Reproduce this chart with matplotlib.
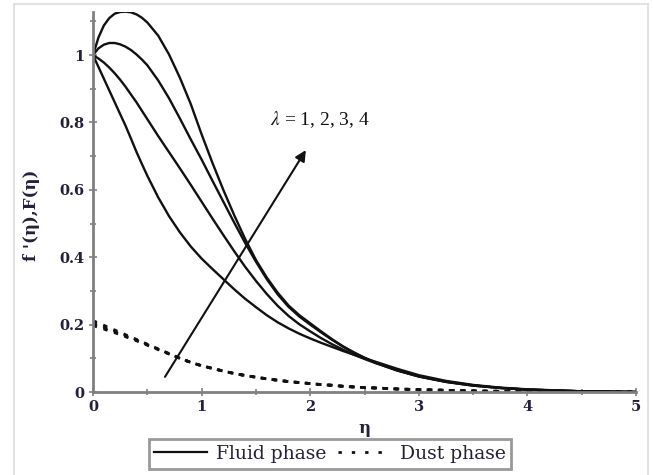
import matplotlib
matplotlib.use("Agg")
import matplotlib.pyplot as plt
from matplotlib.lines import Line2D
from matplotlib.ticker import MultipleLocator

eta = [0, 0.05, 0.1, 0.15, 0.2, 0.25, 0.3, 0.35, 0.4, 0.45, 0.5, 0.6, 0.7, 0.8, 0.9,
       1.0, 1.1, 1.2, 1.3, 1.4, 1.5, 1.6, 1.7, 1.8, 1.9, 2.0, 2.1, 2.2, 2.3, 2.4, 2.5,
       2.6, 2.8, 3.0, 3.25, 3.5, 3.75, 4.0, 4.5, 5.0]

fluid_l1 = [1.0, 0.965, 0.93, 0.895, 0.86, 0.825, 0.79, 0.752, 0.713, 0.677, 0.642, 0.578,
            0.522, 0.474, 0.432, 0.396, 0.365, 0.335, 0.305, 0.277, 0.252, 0.228, 0.207,
            0.189, 0.173, 0.159, 0.146, 0.134, 0.122, 0.111, 0.1, 0.09, 0.069, 0.05, 0.033,
            0.021, 0.013, 0.008, 0.002, 0.0]
fluid_l2 = [1.0, 0.99, 0.978, 0.963, 0.946, 0.927, 0.906, 0.883, 0.86, 0.835, 0.81, 0.76,
            0.712, 0.664, 0.615, 0.565, 0.515, 0.466, 0.418, 0.372, 0.33, 0.291, 0.256,
            0.226, 0.201, 0.18, 0.16, 0.142, 0.126, 0.111, 0.098, 0.086, 0.064, 0.046, 0.03,
            0.019, 0.012, 0.007, 0.002, 0.0]
fluid_l3 = [1.0, 1.02, 1.031, 1.036, 1.036, 1.032, 1.025, 1.015, 1.002, 0.987, 0.97, 0.925,
            0.872, 0.812, 0.75, 0.69, 0.627, 0.565, 0.503, 0.443, 0.387, 0.335, 0.29,
            0.253, 0.224, 0.2, 0.177, 0.155, 0.135, 0.117, 0.101, 0.087, 0.064, 0.046, 0.03,
            0.019, 0.012, 0.007, 0.002, 0.0]
fluid_l4 = [1.0, 1.052, 1.088, 1.110, 1.123, 1.128, 1.129, 1.127, 1.121, 1.111, 1.097, 1.058,
            1.002, 0.933, 0.855, 0.765, 0.68, 0.6, 0.525, 0.455, 0.392, 0.34, 0.295,
            0.257, 0.228, 0.204, 0.18, 0.157, 0.136, 0.118, 0.102, 0.088, 0.065, 0.047, 0.031,
            0.02, 0.012, 0.007, 0.002, 0.0]

# dust phase: start segments (eta 0 .. 0.7) differ, tail (eta 0.8 .. 5) shared
dust_head_l1 = [0.212, 0.205, 0.198, 0.191, 0.184, 0.177, 0.170, 0.163, 0.156, 0.149, 0.142, 0.128, 0.114]
dust_head_l2 = [0.207, 0.201, 0.194, 0.188, 0.181, 0.175, 0.168, 0.162, 0.155, 0.148, 0.141, 0.127, 0.114]
dust_head_l3 = [0.202, 0.196, 0.190, 0.184, 0.178, 0.172, 0.166, 0.160, 0.154, 0.147, 0.140, 0.127, 0.113]
dust_head_l4 = [0.197, 0.192, 0.187, 0.181, 0.176, 0.170, 0.164, 0.158, 0.152, 0.146, 0.139, 0.126, 0.113]
dust_tail = [0.1, 0.088, 0.078, 0.07, 0.062, 0.055, 0.049, 0.044, 0.039, 0.035, 0.031, 0.028,
             0.025, 0.022, 0.02, 0.017, 0.015, 0.013, 0.012, 0.009, 0.007, 0.005, 0.003,
             0.002, 0.0015, 0.0005, 0.0]

fluid = [fluid_l1, fluid_l2, fluid_l3, fluid_l4]
dust = [h + dust_tail for h in (dust_head_l1, dust_head_l2, dust_head_l3, dust_head_l4)]

x_ticks = [0, 1, 2, 3, 4, 5]
y_ticks = [0, 0.2, 0.4, 0.6, 0.8, 1]
y_tick_labels = ["0", "0.2", "0.4", "0.6", "0.8", "1"]
annot_text = r"$\lambda$ = 1, 2, 3, 4"
arrow_start = (0.663, 0.045)
arrow_end = (1.96, 0.718)

label_color = "#23203a"
tick_font = ["DejaVu Serif"]
text_font = ["DejaVu Serif"]

fig = plt.figure(figsize=(6.53, 4.75), dpi=100)
ax = fig.add_axes([93 / 653, (475 - 392) / 475, (636 - 93) / 653, (392 - 12) / 475])

for ys in fluid:
    ax.plot(eta, ys, color="#111111", lw=1.7, solid_capstyle="round", solid_joinstyle="round")
for ys in dust:
    ax.plot(eta, ys, color="#111111", lw=2.0, linestyle=(0, (1.5, 2.5)))

ax.set_xlim(0, 5)
ax.set_ylim(0, 1.128)
ax.set_xticks(x_ticks)
ax.set_xticklabels([str(v) for v in x_ticks])
ax.set_yticks(y_ticks)
ax.set_yticklabels(y_tick_labels)
ax.xaxis.set_minor_locator(MultipleLocator(0.5))
ax.yaxis.set_minor_locator(MultipleLocator(0.1))

for s in ["top", "right"]:
    ax.spines[s].set_visible(False)
for s in ["left", "bottom"]:
    ax.spines[s].set_color("#808080")
    ax.spines[s].set_linewidth(2.0)

ax.tick_params(which="both", direction="inout", color="#808080", width=1.2)
ax.tick_params(which="major", length=6, pad=3)
ax.tick_params(which="minor", length=5)
for lab in ax.get_xticklabels() + ax.get_yticklabels():
    lab.set_fontfamily(tick_font)
    lab.set_fontweight("bold")
    lab.set_fontsize(10.5)
    lab.set_color(label_color)

ax.set_xlabel("η", fontfamily=tick_font, fontweight="bold", fontsize=12,
              color=label_color, labelpad=4)
ax.set_ylabel("f '(η),F(η)", fontfamily=tick_font, fontweight="bold", fontsize=12,
              color=label_color)
ax.yaxis.set_label_coords(-0.098, 0.465)

ax.annotate("", xy=arrow_end, xytext=arrow_start,
            arrowprops=dict(arrowstyle="-|>", color="#111111", lw=1.5,
                            mutation_scale=16, shrinkA=0, shrinkB=0))
ax.text(1.63, 0.81, annot_text, fontfamily=["Liberation Serif"], fontsize=14,
        color="#111111", ha="left", va="center", math_fontfamily="stix")

handles = [Line2D([], [], color="#111111", lw=1.6),
           Line2D([], [], color="#111111", lw=2.0, linestyle=(0, (1.2, 3.6)))]
leg = fig.legend(handles, ["Fluid phase", "Dust phase"], loc="center",
                 bbox_to_anchor=(330 / 653, 1 - 454 / 475), ncol=2,
                 frameon=True, fancybox=False, handlelength=2.8,
                 columnspacing=0.6, handletextpad=0.5, borderpad=0.3,
                 borderaxespad=0.0,
                 prop={"family": text_font, "size": 13.5})
leg.get_frame().set_edgecolor("#808080")
leg.get_frame().set_linewidth(2.0)
for t in leg.get_texts():
    t.set_color(label_color)

# light outer frame
fig.add_artist(Line2D([14 / 653, 14 / 653], [0, 1 - 4 / 475], color="#dddddd", lw=1.2))
fig.add_artist(Line2D([14 / 653, 648 / 653], [1 - 4 / 475, 1 - 4 / 475], color="#dddddd", lw=1.2))
fig.add_artist(Line2D([648 / 653, 648 / 653], [0, 1 - 4 / 475], color="#dddddd", lw=1.2))

fig.savefig("out.png", dpi=100)
